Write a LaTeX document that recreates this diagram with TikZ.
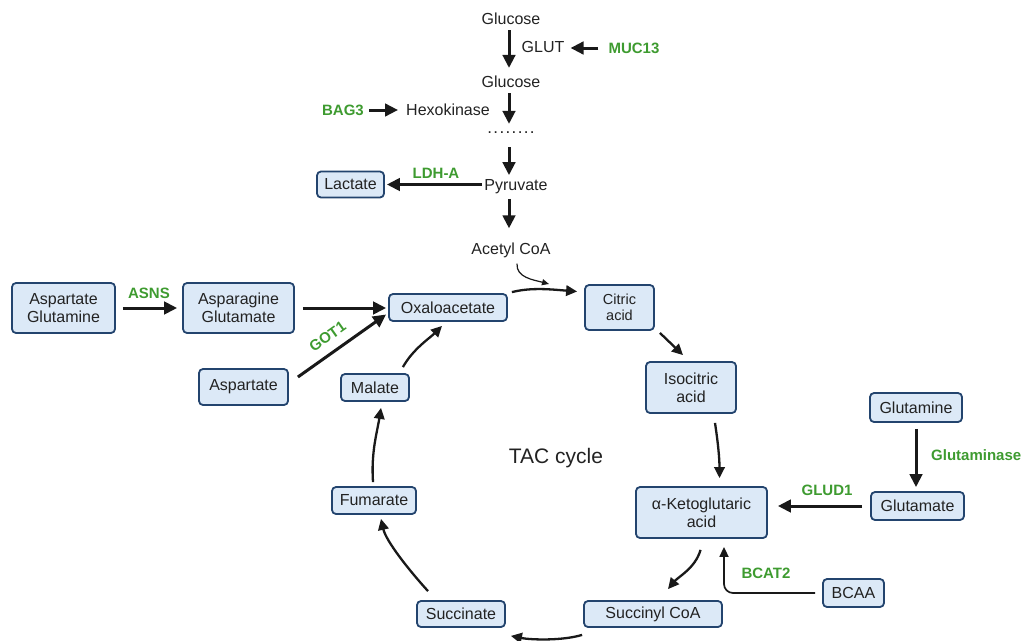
\documentclass[tikz,border=0pt]{standalone}
\usepackage{fontspec}
\setmainfont{Liberation Sans}
\usetikzlibrary{arrows.meta,calc}
\definecolor{boxfill}{HTML}{DCE9F7}
\definecolor{boxdraw}{HTML}{23446E}
\definecolor{grn}{HTML}{3E9B30}
\definecolor{txt}{HTML}{222222}
\begin{document}
\begin{tikzpicture}[x=1pt,y=-1pt,
  every node/.style={text=txt, font=\fontsize{16}{18}\selectfont, inner sep=0pt},
  box/.style={draw=boxdraw, fill=boxfill, line width=1.8pt, rounded corners=4pt, align=center},
  small/.style={font=\fontsize{14.5}{16}\selectfont},
  lbl/.style={text=grn, font=\fontsize{15}{18}\selectfont\bfseries},
  arr/.style={line width=3pt, draw=black!90, -{Triangle[length=13pt,width=12.5pt]}},
  cyc/.style={line width=2.3pt, draw=black!90, -{Triangle[length=11pt,width=10.5pt]}},
  arrthin/.style={line width=1.7pt, draw=black!90, -{Triangle[length=10pt,width=9pt]}},
  arrhair/.style={line width=1.2pt, draw=black!90, -{Triangle[length=7pt,width=6pt]}}]
\useasboundingbox (0,0) rectangle (1025,640);

% glycolysis column
\coordinate (ax) at (509,0);
\node (glc1) at (511,19) {Glucose};
\node (glut) at (543,47) {GLUT};
\node[lbl] (muc) at (634,48) {MUC13};
\node (glc2) at (511,82) {Glucose};
\node[lbl] (bag) at (343,110) {BAG3};
\node (hex) at (448,110) {Hexokinase};
\node[font=\fontsize{17}{18}\selectfont] (dots) at (511,133) {\addfontfeature{LetterSpace=8}........};
\node (pyr) at (516,187) {Pyruvate};
\node[box, minimum width=67pt, minimum height=26pt] (lac) at (350.5,184.5) {Lactate};
\node[lbl] (ldh) at (436,173) {LDH-A};
\node (acoa) at (511,250) {Acetyl CoA};

% left side
\node[box, minimum width=103pt, minimum height=50pt] (aspgln) at (63.5,308) {Aspartate\\Glutamine};
\node[lbl] (asns) at (149,293) {ASNS};
\node[box, minimum width=111pt, minimum height=50pt] (asnglu) at (238.5,308) {Asparagine\\Glutamate};
\node[box, minimum width=89pt, minimum height=36pt] (asp) at (243.5,387) {Aspartate};

% cycle
\node[box, minimum width=118pt, minimum height=27pt] (oxa) at (448,307.5) {Oxaloacetate};
\node[box, small, minimum width=69pt, minimum height=45pt] (cit) at (619.5,307.5) {Citric\\acid};
\node[box, minimum width=90pt, minimum height=51pt] (iso) at (691,387.5) {Isocitric\\acid};
\node[box, minimum width=131pt, minimum height=51pt] (akg) at (701.5,512.5) {α-Ketoglutaric\\acid};
\node[box, minimum width=138pt, minimum height=26pt] (succoa) at (653,614) {Succinyl CoA};
\node[box, minimum width=88pt, minimum height=26pt] (succ) at (461,614) {Succinate};
\node[box, minimum width=84pt, minimum height=27pt] (fum) at (374,500.5) {Fumarate};
\node[box, minimum width=68pt, minimum height=27pt] (mal) at (375,387.5) {Malate};
\node[font=\fontsize{21}{24}\selectfont] (tac) at (556,458) {TAC cycle};

% right side
\node[box, minimum width=92pt, minimum height=29pt] (gln) at (916,407.5) {Glutamine};
\node[box, minimum width=93pt, minimum height=28pt] (glu) at (917.5,506) {Glutamate};
\node[lbl, anchor=west] (gase) at (931,455) {Glutaminase};
\node[lbl] (glud) at (827,490) {GLUD1};
\node[box, minimum width=61pt, minimum height=28pt] (bcaa) at (853.5,593) {BCAA};
\node[lbl] (bcat) at (766,573) {BCAT2};

% glycolysis arrows
\draw[arr, shorten <=5pt, shorten >=8pt] (ax |- glc1.south) -- (ax |- glc2.north);
\draw[arr, shorten <=5pt, shorten >=8pt] (ax |- glc2.south) -- (ax |- dots.north);
\draw[arr, shorten <=13pt, shorten >=4.5pt] (ax |- dots.south) -- (ax |- pyr.north);
\draw[arr, shorten <=4.5pt, shorten >=14pt] (ax |- pyr.south) -- (ax |- acoa.north);
\draw[arr, shorten <=10pt, shorten >=6pt] (muc.west) -- (muc.west -| glut.east);
\draw[arr, shorten <=5pt, shorten >=8pt] (bag.east) -- (bag.east -| hex.west);
\draw[arr, shorten <=2pt, shorten >=2pt] (pyr.west |- lac.east) -- (lac.east);

% acetyl CoA entry
\coordinate (acend) at (549,284);
\draw[arrhair] ($(acoa.south)+(6,6)$) .. controls +(-1,14) and +(-15,-4) .. (acend);

% left arrows
\draw[arr, shorten <=7pt, shorten >=5pt] (aspgln.east) -- (asnglu.west);
\draw[arr, shorten <=8pt, shorten >=2pt] (asnglu.east) -- (asnglu.east -| oxa.west);
\draw[arr] ($(asp.east)+(9,-10)$) -- node[lbl, pos=0.44, sloped, above=9pt] (got) {GOT1} ($(oxa.west)+(-2,7)$);

% cycle arrows
\draw[cyc] ($(oxa.north east)+(4,-1)$) .. controls +(20,-5) and +(-25,-2) .. ($(cit.west)+(-7,-16)$);
\draw[cyc] ($(cit.south east)+(5,2)$) -- ($(iso.north)+(-8,-6)$);
\draw[cyc] ($(iso.south)+(24,9)$) .. controls +(3,20) and +(0,-20) .. ($(akg.north)+(18,-8)$);
\draw[cyc] ($(akg.south)+(-1,11)$) .. controls +(-5,18) and +(10,-12) .. ($(succoa.north)+(15,-11)$);
\draw[cyc] ($(succoa.south west)+(-1,7)$) .. controls +(-20,6) and +(20,4) .. ($(succ.south east)+(5,8)$);
\draw[cyc] ($(succ.north)+(-33,-9)$) .. controls +(-20,-22) and +(5,22) .. ($(fum.south)+(7,4)$);
\draw[cyc] ($(fum.north)+(-1,-4)$) .. controls +(-2,-30) and +(-4,25) .. ($(mal.south)+(6,6)$);
\draw[cyc] ($(mal.north east)+(-7,-6)$) .. controls +(10,-18) and +(-12,12) .. ($(oxa.south)+(-6,4)$);

% right arrows
\draw[arr, shorten <=6pt, shorten >=4pt] (gln.south) -- (gln.south |- glu.north);
\draw[arr, shorten <=8pt, shorten >=10pt] (glu.west) -- (glu.west -| akg.east);
\coordinate (bt) at ($(akg.south)+(22.5,8)$);
\draw[arrthin, rounded corners=9pt] ($(bcaa.west)+(-7,0)$) -- (bt |- bcaa.west) -- (bt);
\end{tikzpicture}
\end{document}
